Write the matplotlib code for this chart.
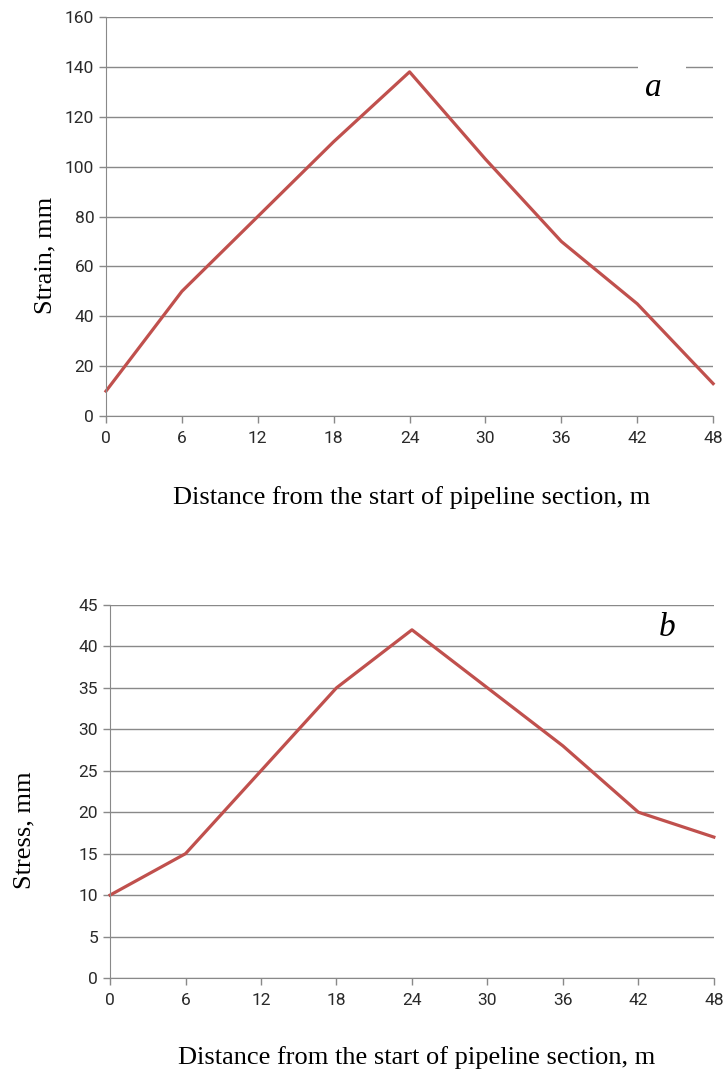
import matplotlib.pyplot as plt

distance = [0, 6, 12, 18, 24, 30, 36, 42, 48]
strain = [10, 50, 80, 110, 138, 103, 70, 45, 13]
stress = [10, 15, 25, 35, 42, 35, 28, 20, 17]

line_color = '#C0504D'
grid_color = '#898989'
tick_font = ['Roboto', 'DejaVu Sans']
label_font = ['Liberation Serif', 'DejaVu Serif']


def style_axes(ax, ymax, ystep):
    ax.set_xlim(0, 48)
    ax.set_ylim(0, ymax)
    ax.set_xticks(distance)
    ax.set_yticks(range(0, ymax + 1, ystep))
    ax.grid(axis='y', color=grid_color, linewidth=1)
    ax.set_axisbelow(True)
    for side in ['top', 'right']:
        ax.spines[side].set_visible(False)
    for side in ['left', 'bottom']:
        ax.spines[side].set_color(grid_color)
    ax.tick_params(colors=grid_color, length=5, width=1, labelcolor='#2a2a2a', labelsize=12.5)
    ax.tick_params(axis='x', pad=6)
    for lab in ax.get_xticklabels() + ax.get_yticklabels():
        lab.set_family(tick_font)


fig = plt.figure(figsize=(7.24, 10.69), dpi=100)

ax1 = fig.add_axes([0.1464, 0.6108, 0.8386, 0.3733])
ax1.plot(distance, strain, color=line_color, linewidth=2.3, clip_on=False)
style_axes(ax1, 160, 20)
ax1.set_xlabel('Distance from the start of pipeline section, m', family=label_font, fontsize=19, va='center')
ax1.xaxis.set_label_coords(0.504, -0.203)
ax1.set_ylabel('Strain, mm', family=label_font, fontsize=19, va='center')
ax1.yaxis.set_label_coords(-0.1005, 0.403)
ax1.text(0.888, 0.822, 'a  ', transform=ax1.transAxes, family=label_font, style='italic',
         fontsize=24, ha='left', va='center',
         bbox=dict(facecolor='white', edgecolor='none', pad=5))

ax2 = fig.add_axes([0.152, 0.0851, 0.834, 0.349])
ax2.plot(distance, stress, color=line_color, linewidth=2.3, clip_on=False)
style_axes(ax2, 45, 5)
ax2.set_xlabel('Distance from the start of pipeline section, m', family=label_font, fontsize=19, va='center')
ax2.xaxis.set_label_coords(0.508, -0.212)
ax2.set_ylabel('Stress, mm', family=label_font, fontsize=19, va='center')
ax2.yaxis.set_label_coords(-0.141, 0.397)
ax2.text(0.922, 0.938, 'b', transform=ax2.transAxes, family=label_font, style='italic',
         fontsize=24, ha='center', va='center')

fig.savefig('out.png', dpi=100)
